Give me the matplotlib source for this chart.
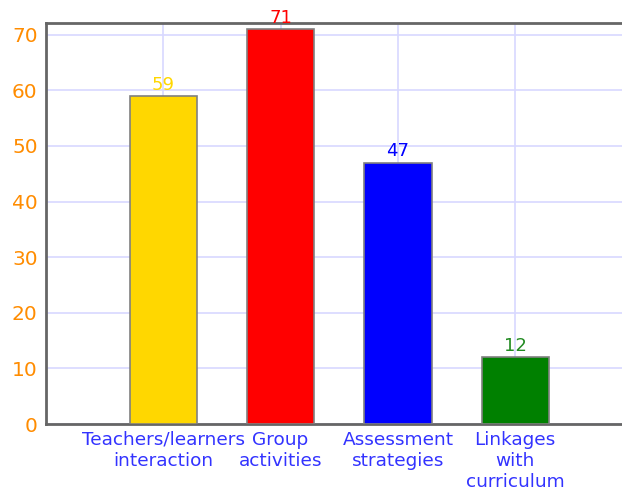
import matplotlib
matplotlib.use("Agg")
import matplotlib.pyplot as plt

categories = ["Teachers/learners\ninteraction", "Group\nactivities", "Assessment\nstrategies", "Linkages\nwith\ncurriculum"]
values = [59, 71, 47, 12]
bar_colors = ["#FFD700", "#FF0000", "#0000FF", "#008000"]
label_colors = ["#FFD700", "#FF0000", "#0000FF", "#228B22"]
yticks = [0, 10, 20, 30, 40, 50, 60, 70]

fig = plt.figure(figsize=(6.22, 4.93), dpi=100)
ax = fig.add_axes([46/622, 69/493, 1 - 46/622, (424-23)/493])

x = list(range(len(categories)))
bars = ax.bar(x, values, width=0.575, color=bar_colors, edgecolor="#808080", linewidth=1.2, zorder=3)
for xi, v, c in zip(x, values, label_colors):
    ax.text(xi, v + 0.4, str(v), ha="center", va="bottom", color=c, fontsize=13, zorder=4)

ax.set_xlim(-1.0, 3.91)
ax.set_ylim(0, 72.1)
ax.set_yticks(yticks)
ax.set_xticks(x)
ax.set_xticklabels(categories, color="#3333FF", fontsize=13.3, linespacing=1.2)
ax.tick_params(axis="y", colors="#FF8C00", labelsize=14.5, length=0, pad=6)
ax.tick_params(axis="x", length=0, pad=5)
ax.grid(True, color="#D8D8FF", linewidth=1.2, zorder=0)
for s in ["left", "bottom", "top"]:
    ax.spines[s].set_color("#666666")
    ax.spines[s].set_linewidth(2)
ax.spines["right"].set_visible(False)

fig.savefig("out.png", dpi=100)
